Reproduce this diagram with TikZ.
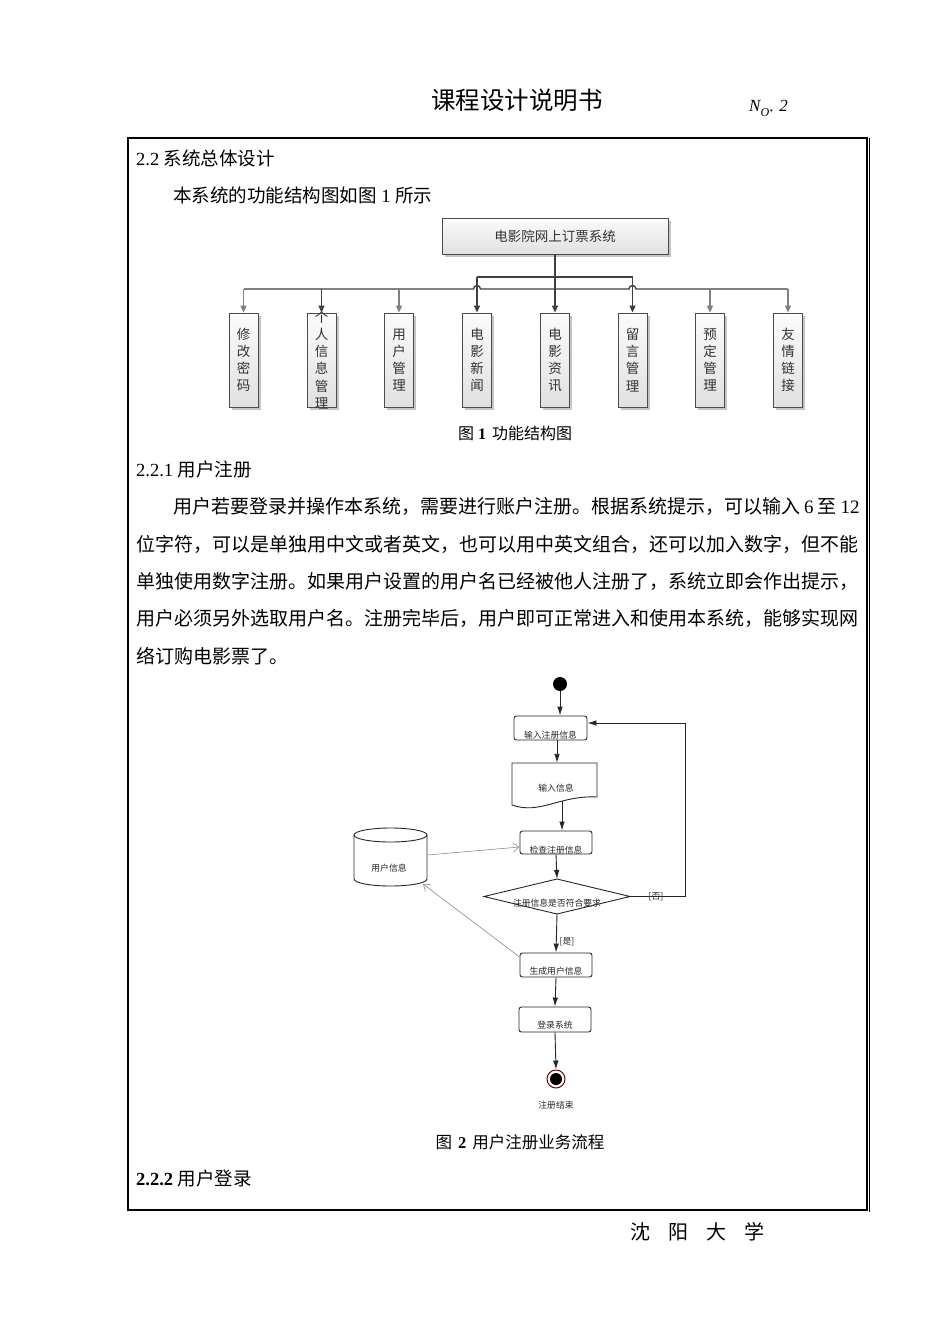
\documentclass[tikz,border=0pt]{standalone}
\usepackage{fontspec}
\setmainfont{Liberation Serif}
\newfontfamily\cjk{Noto Sans CJK SC}
\usetikzlibrary{arrows.meta,shadows,calc}
\XeTeXlinebreaklocale "zh"
\XeTeXlinebreakskip=0pt plus 2pt
\newcommand\fsz[1]{\fontsize{#1}{#1}\selectfont}
\begin{document}
\begin{tikzpicture}[x=1pt,y=-1pt,
  txt/.style={inner sep=0pt,anchor=west},
  sbox/.style={draw=black!70,line width=0.8pt,top color=gray!3,bottom color=gray!24,
    drop shadow={shadow xshift=2.5pt,shadow yshift=-2.5pt,fill=black!45},inner sep=0pt},
  topbox/.style={sbox,minimum width=226pt,minimum height=36pt,font=\cjk\fsz{13.5},text=black!80},
  vbox/.style={sbox,minimum width=29pt,minimum height=94pt},
  vtext/.style={inner sep=0pt,align=center,font=\cjk\fontsize{13.5}{17.2}\selectfont,text=black!80},
  dkline/.style={draw=black!75,line width=1.4pt},
  ltline/.style={draw=black!50,line width=1.1pt},
  stip/.style={-{Triangle[width=6pt,length=7pt]}},
  fl/.style={draw=black!85,line width=0.9pt},
  arr/.style={fl,-{Latex[width=5.5pt,length=9pt]}},
  act/.style={fl,rounded corners=2.5pt,fill=white,inner sep=0pt},
  ftext/.style={font=\cjk\fsz{8.8},inner sep=0pt,text=black!85},
  ghost/.style={draw=black!45,line width=0.6pt,-{Straight Barb[length=6pt,width=9pt]}}
]
\useasboundingbox (0,0) rectangle (950,1344);
\fill[white] (0,0) rectangle (950,1344);

% header
\node[font=\cjk\fsz{24.5}] (title) at (517,100) {课程设计说明书};
\node[txt,font=\fsz{17}] (no) at (749,108) {\itshape N\raisebox{-0.3em}{\fsz{12}O}\raisebox{-0.3em}{·}\hspace{6pt}2};

% frame
\draw[line width=1.1pt] (128,138) rectangle (867,1210);
\draw[line width=0.6pt] (869.5,138) -- (869.5,1212);

% section text
\node[txt,font=\fsz{18.5}] (s22) at (136,158) {2.2 {\cjk 系统总体设计}};
\node[txt,font=\fsz{18.5}] (intro) at (173,195) {{\cjk 本系统的功能结构图如图} 1 {\cjk 所示}};

% structure chart
\node[topbox] (sys) at (555,236) {电影院网上订票系统};
\node[vbox] (b1) at (243.5,360) {};
\node[vbox] (b2) at (321.5,360) {};
\node[vbox] (b3) at (399,360) {};
\node[vbox] (b4) at (477,360) {};
\node[vbox] (b5) at (555,360) {};
\node[vbox] (b6) at (632.5,360) {};
\node[vbox] (b7) at (710,360) {};
\node[vbox] (b8) at (788,360) {};
\node[vtext] at (b1.center) {修\\改\\密\\码};
\node[vtext] at (b2.center) {个\\人\\信\\息\\管\\理};
\node[vtext] at (b3.center) {用\\户\\管\\理};
\node[vtext] at (b4.center) {电\\影\\新\\闻};
\node[vtext] at (b5.center) {电\\影\\资\\讯};
\node[vtext] at (b6.center) {留\\言\\管\\理};
\node[vtext] at (b7.center) {预\\定\\管\\理};
\node[vtext] at (b8.center) {友\\情\\链\\接};

\coordinate (bus) at (555,289);
\coordinate (upper) at (555,277);
\draw[ltline] (b1.north |- bus) -- (b2.north |- bus);
\draw[dkline] (b2.north |- bus) -- ([xshift=-3.5pt]b4.north |- bus)
  arc[start angle=180,end angle=0,radius=3.5pt] -- ([xshift=-3.5pt]b6.north |- bus)
  arc[start angle=180,end angle=0,radius=3.5pt] -- (b7.north |- bus);
\draw[ltline] (b7.north |- bus) -- (b8.north |- bus);
\draw[dkline,stip] (sys.south) -- (b5.north);
\draw[dkline] (b4.north |- upper) -- (b6.north |- upper);
\draw[dkline,stip] (b4.north |- upper) -- (b4.north);
\draw[dkline,stip] (b6.north |- upper) -- (b6.north);
\draw[ltline,stip] (b1.north |- bus) -- (b1.north);
\draw[dkline,stip] (b2.north |- bus) -- (b2.north);
\draw[ltline,stip] (b3.north |- bus) -- (b3.north);
\draw[ltline,stip] (b7.north |- bus) -- (b7.north);
\draw[ltline,stip] (b8.north |- bus) -- (b8.north);

\node[font=\fsz{16}] (cap1) at (515,433) {{\cjk 图} \textbf{1}\hspace{6pt}{\cjk 功能结构图}};

% 2.2.1
\node[txt,font=\fsz{18.5}] (s221) at (136,469) {2.2.1 {\cjk 用户注册}};
\node[txt,font=\fsz{19}] (p1) at (173,506) {{\cjk 用户若要登录并操作本系统，需要进行账户注册。根据系统提示，可以输入}\hspace{4pt}6\hspace{4pt}{\cjk 至}\hspace{4pt}12};
\node[txt,font=\fsz{19}] (p2) at (136,544) {\makebox[724pt][s]{\cjk 位字符，可以是单独用中文或者英文，也可以用中英文组合，还可以加入数字，但不能}};
\node[txt,font=\fsz{19}] (p3) at (136,581) {\makebox[724pt][s]{\cjk 单独使用数字注册。如果用户设置的用户名已经被他人注册了，系统立即会作出提示，}};
\node[txt,font=\fsz{19}] (p4) at (136,618) {\makebox[724pt][s]{\cjk 用户必须另外选取用户名。注册完毕后，用户即可正常进入和使用本系统，能够实现网}};
\node[txt,font=\fsz{19}] (p5) at (136,656) {\cjk 络订购电影票了。};

% flowchart
\node[circle,fill=black,minimum size=14pt,inner sep=0pt] (start) at (560,684) {};
\node[act,minimum width=73pt,minimum height=24pt] (in1) at (550.5,728) {};
\node[ftext] at ([yshift=-7pt]in1.center) {输入注册信息};
\node[minimum width=85pt,minimum height=34pt,inner sep=0pt] (doc) at (554.5,780) {};
\draw[fl,fill=white] (512,763) -- (597,763) -- (597,797) .. controls (560,795) and (540,815) .. (512,805) -- cycle;
\node[ftext] at (556,788) {输入信息};
\coordinate (docb) at (562,801);
\node[act,minimum width=72pt,minimum height=23pt] (chk) at (556,842.5) {};
\node[ftext] at (556,850) {检查注册信息};
\coordinate (diaT) at (557,879);
\coordinate (diaR) at (630,896.5);
\coordinate (diaB) at (557,914);
\coordinate (diaL) at (484,896.5);
\draw[fl,fill=white] (diaL) -- (diaT) -- (diaR) -- (diaB) -- cycle;
\node[ftext] at (557,903) {注册信息是否符合要求};
\node[act,minimum width=72pt,minimum height=24pt] (gen) at (556,965) {};
\node[ftext] at (556,971) {生成用户信息};
\node[act,minimum width=72pt,minimum height=25pt] (login) at (555,1019.5) {};
\node[ftext] at (555,1025) {登录系统};
\node[circle,draw=red!45!black,line width=1pt,minimum size=18pt,fill=white,inner sep=0pt] (fin) at (556,1079) {};
\fill[black] (fin.center) circle (6pt);
\node[ftext] at (556,1105) {注册结束};

% database
\node[minimum width=73pt,minimum height=58pt,inner sep=0pt] (db) at (390.5,857) {};
\draw[fl,fill=white] (354,835) -- (354,879) arc[start angle=180,end angle=360,x radius=36.5pt,y radius=7pt] -- (427,835);
\draw[fl,fill=white] (390.5,835) ellipse[x radius=36.5pt,y radius=7pt];
\node[ftext] at (389,868) {用户信息};
\coordinate (dbBR) at (423,884);

% flow connectors
\draw[arr] (start) -- (start |- in1.north);
\draw[arr] ([xshift=6.5pt]in1.south) -- ([xshift=6.5pt]in1.south |- doc.north);
\draw[arr] (docb) -- (docb |- chk.north);
\draw[arr] (chk.south) -- (diaT);
\coordinate (loopA) at (685,896.5);
\coordinate (loopB) at (685,723);
\draw[arr] (diaR) -- (loopA) -- (loopB) -- (in1.east |- loopB);
\node[ftext] at (656,897) {[否]};
\draw[arr] (diaB) -- (gen.north);
\node[ftext] at (567,942) {[是]};
\draw[arr] (gen.south) -- (login.north);
\draw[arr] (login.south) -- (fin.north);
\draw[ghost] ([yshift=2pt]db.east) -- ([yshift=-4.5pt]chk.west);
\draw[ghost] ([yshift=8pt]gen.west) -- (dbBR);

\node[font=\fsz{16.5}] (cap2) at (520,1142) {{\cjk 图}\hspace{6pt}\textbf{2}\hspace{6pt}{\cjk 用户注册业务流程}};
\node[txt,font=\fsz{18.5}] (s222) at (136,1178) {\textbf{2.2.2} {\cjk 用户登录}};

\node[font=\cjk\fsz{20}] (univ) at (697,1232) {沈\hspace{18pt}阳\hspace{18pt}大\hspace{18pt}学};
\end{tikzpicture}
\end{document}
